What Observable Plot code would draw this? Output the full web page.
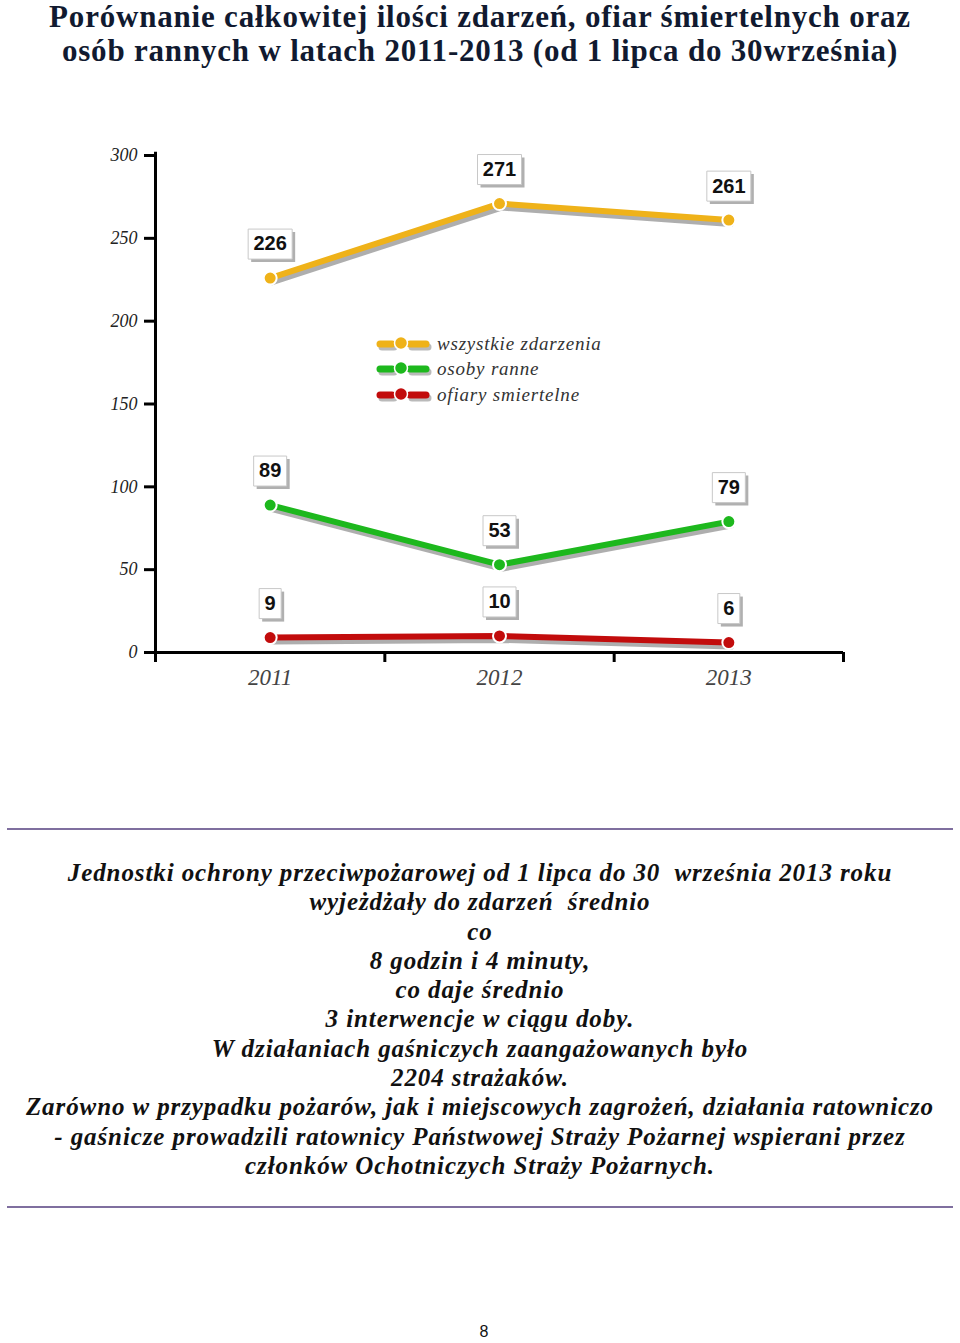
<!DOCTYPE html>
<html>
<head>
<meta charset="utf-8">
<script src="https://cdn.jsdelivr.net/npm/d3@7"></script>
<script src="https://cdn.jsdelivr.net/npm/@observablehq/plot@0.6"></script>
<style>
  html, body { margin: 0; padding: 0; background: #fff; }
  #page { position: relative; width: 960px; height: 1343px; overflow: hidden; }
  #title { position: absolute; left: 0; top: 0px; width: 960px; text-align: center;
    font-family: "Liberation Serif", serif; font-weight: bold; font-size: 31px; letter-spacing: 0.8px; line-height: 34px; color: #111a30; }
  #chart { position: absolute; left: 0; top: 90px; }
  #legend { position: absolute; left: 376px; top: 331px; font-family: "Liberation Serif", serif; font-style: italic; font-size: 19px; letter-spacing: 0.8px; color: #333; }
  .item { height: 25.5px; display: flex; align-items: center; }
  .item svg { margin-right: 5px; }
  .rule { position: absolute; left: 7px; width: 946px; height: 2px; background: #7f6f9f; }
  #para { position: absolute; left: 0; width: 960px; top: 858px; text-align: center;
    font-family: "Liberation Serif", serif; font-weight: bold; font-style: italic; font-size: 25px; letter-spacing: 0.9px; line-height: 29.3px; color: #111; }
  #pnum { position: absolute; left: 0; width: 968px; top: 1323px; text-align: center; font-family: "Liberation Sans", sans-serif; font-size: 16px; color: #111; }
</style>
</head>
<body>
<div id="page">
  <div id="title">Porównanie całkowitej ilości zdarzeń, ofiar śmiertelnych oraz<br>osób rannych w latach 2011-2013 (od 1 lipca do 30września)</div>
  <div id="chart"></div>
  <div id="legend"></div>
  <div class="rule" style="top:828px"></div>
  <div id="para">Jednostki ochrony przeciwpożarowej od 1 lipca do 30&nbsp; września 2013 roku<br>wyjeżdżały do zdarzeń&nbsp; średnio<br>co<br>8 godzin i 4 minuty,<br>co daje średnio<br>3 interwencje w ciągu doby.<br>W działaniach gaśniczych zaangażowanych było<br>2204 strażaków.<br>Zarówno w przypadku pożarów, jak i miejscowych zagrożeń, działania ratowniczo<br>- gaśnicze prowadzili ratownicy Państwowej Straży Pożarnej wspierani przez<br>członków Ochotniczych Straży Pożarnych.</div>
  <div class="rule" style="top:1206px"></div>
  <div id="pnum">8</div>
</div>
<script>
// ---- data ----
const years = [2011, 2012, 2013];
const allEvents = [226, 271, 261];
const injured = [89, 53, 79];
const fatalities = [9, 10, 6];
const seriesNames = ["wszystkie zdarzenia", "osoby ranne", "ofiary smiertelne"];
const seriesColors = ["#efb219", "#1db81d", "#c20c0c"];
const yTicks = [0, 50, 100, 150, 200, 250, 300];
const bandEdges = [2010.5, 2011.5, 2012.5, 2013.5];

const seriesValues = [allEvents, injured, fatalities];
const data = [];
seriesNames.forEach((s, i) => years.forEach((yr, j) => data.push({year: yr, value: seriesValues[i][j], series: s})));

// rectangular label-box symbol of a given pixel width
const boxSymbol = w => ({ draw(ctx) { ctx.moveTo(-w / 2, -15); ctx.lineTo(w / 2, -15); ctx.lineTo(w / 2, 15); ctx.lineTo(-w / 2, 15); ctx.closePath(); } });
const boxWidths = {1: 22, 2: 33, 3: 44};

const labelMarks = [];
for (const n of [1, 2, 3]) {
  const sub = data.filter(d => String(d.value).length === n);
  labelMarks.push(Plot.dot(sub, {x: "year", y: "value", r: 5, symbol: boxSymbol(boxWidths[n]), fill: "#b0b0b0", stroke: "none", dx: 3, dy: -31}));
  labelMarks.push(Plot.dot(sub, {x: "year", y: "value", r: 5, symbol: boxSymbol(boxWidths[n]), fill: "#fff", stroke: "#c8c8c8", strokeWidth: 1, dy: -34}));
}

const chart = Plot.plot({
  width: 960,
  height: 640,
  marginTop: 65,
  marginBottom: 78,
  marginLeft: 155,
  marginRight: 117,
  x: {domain: [2010.5, 2013.5]},
  y: {domain: [0, 300]},
  color: {domain: seriesNames, range: seriesColors},
  style: {background: "transparent", overflow: "visible"},
  marks: [
    Plot.axisY(yTicks, {tickSize: 11, tickPadding: 7, strokeWidth: 3, stroke: "#000", fontSize: 18, fontStyle: "italic", fontFamily: "Liberation Serif, serif", fill: "#222", label: null}),
    Plot.axisX(bandEdges, {tickSize: 10, strokeWidth: 3, stroke: "#000", tickFormat: () => "", label: null}),
    Plot.axisX(years, {tickSize: 0, tickPadding: 16, fontSize: 23, fontStyle: "italic", fontFamily: "Liberation Serif, serif", fill: "#444", tickFormat: d => String(d), label: null}),
    Plot.ruleX([2010.5], {stroke: "#000", strokeWidth: 3, y1: 0, y2: 302}),
    Plot.ruleY([0], {stroke: "#000", strokeWidth: 3}),
    Plot.line(data, {x: "year", y: "value", z: "series", stroke: "#9a9a9a", strokeWidth: 6, dx: 2, dy: 4, strokeOpacity: 0.8}),
    Plot.line(data, {x: "year", y: "value", z: "series", stroke: "series", strokeWidth: 6}),
    Plot.dot(data, {x: "year", y: "value", r: 6.5, fill: "series", stroke: "#fff", strokeWidth: 2}),
    ...labelMarks,
    Plot.text(data, {x: "year", y: "value", text: d => String(d.value), dy: -34, fontSize: 20, fontWeight: "bold", fontFamily: "Liberation Sans, Arial, sans-serif", fill: "#111"})
  ]
});
document.getElementById("chart").appendChild(chart);

// legend
const legend = document.getElementById("legend");
seriesNames.forEach((name, i) => {
  const c = seriesColors[i];
  const item = document.createElement("div");
  item.className = "item";
  item.innerHTML = `<svg width="56" height="20" viewBox="0 0 56 20">
    <g transform="translate(2,3)" stroke="#aaa" fill="#aaa" opacity="0.8"><line x1="4" y1="10" x2="16" y2="10" stroke-width="7" stroke-linecap="round"/><line x1="34" y1="10" x2="50" y2="10" stroke-width="7" stroke-linecap="round"/></g>
    <line x1="4" y1="10" x2="16" y2="10" stroke="${c}" stroke-width="7" stroke-linecap="round"/>
    <line x1="34" y1="10" x2="50" y2="10" stroke="${c}" stroke-width="7" stroke-linecap="round"/>
    <circle cx="25" cy="9" r="6.5" fill="${c}" stroke="#fff" stroke-width="1.5"/></svg><span>${name}</span>`;
  legend.appendChild(item);
});
</script>
</body>
</html>
